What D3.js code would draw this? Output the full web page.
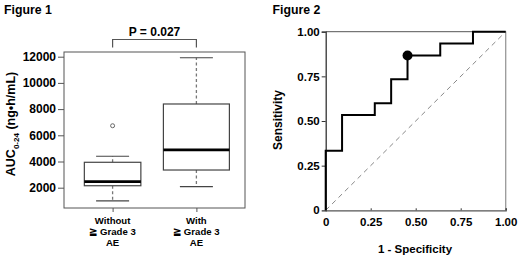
<!DOCTYPE html>
<html>
<head>
<meta charset="utf-8">
<script src="https://cdn.jsdelivr.net/npm/d3@7"></script>
<style>
  body { margin: 0; background: #fff; }
  text { font-family: "Liberation Sans", Arial, sans-serif; font-weight: bold; fill: #000; }
</style>
</head>
<body>
<svg id="chart" width="520" height="260"></svg>
<script>
// ---- Figure 1 data (box plot) ----
const groups = ["without", "with"];
const groupLabels = [["Without", "≧ Grade 3", "AE"], ["With", "≧ Grade 3", "AE"]];
const groupN = [11, 15];
const whiskerLow = [990, 2080];
const q1 = [2150, 3350];
const median = [2460, 4880];
const q3 = [3940, 8390];
const whiskerHigh = [4400, 11920];
const outliers = [[6730], []];
const aucTicks = [2000, 4000, 6000, 8000, 10000, 12000];
const pText = "P = 0.027";

// ---- Figure 2 data (ROC) ----
const nNeg = 11, nPos = 15;
const fpCounts = [0, 0, 1, 3, 4, 5, 7, 9, 11];
const tpCounts = [0, 5, 8, 9, 11, 13, 14, 15, 15];
const cutoffIndex = 5; // highlighted point
const rocTicks = [0, 0.25, 0.5, 0.75, 1];
const rocTickLabels = ["0", "0.25", "0.50", "0.75", "1.00"];

const svg = d3.select("#chart");

// ================= Figure 1 =================
const f1 = { left: 64, right: 245, top: 52, bottom: 208 };
const y1 = d3.scaleLinear().domain([2000, 12000]).range([187.7, 56.7]);
const x1 = d3.scalePoint().domain(groups).range([f1.left, f1.right]).padding(0.58);

svg.append("text").attr("x", 4).attr("y", 14).style("font-size", "12.3px").text("Figure 1");

// frame
svg.append("rect")
  .attr("x", f1.left).attr("y", f1.top)
  .attr("width", f1.right - f1.left).attr("height", f1.bottom - f1.top)
  .attr("fill", "none").attr("stroke", "#555").attr("stroke-width", 1);

// y axis
const yAx1 = svg.append("g").attr("transform", `translate(${f1.left},0)`)
  .call(d3.axisLeft(y1).tickValues(aucTicks).tickSize(6).tickPadding(2).tickFormat(d3.format("d")));
yAx1.select(".domain").remove();
yAx1.selectAll(".tick line").attr("stroke", "#555");
yAx1.selectAll(".tick text").style("font-size", "12px").attr("font-family", null).attr("fill", "#000");

// x ticks at bottom
const xAx1 = svg.append("g").attr("transform", `translate(0,${f1.bottom})`)
  .call(d3.axisBottom(x1).tickSize(4).tickFormat(""));
xAx1.select(".domain").remove();
xAx1.selectAll(".tick line").attr("stroke", "#555");

// x labels
groups.forEach((g, i) => {
  const t = svg.append("text").attr("text-anchor", "middle").style("font-size", "9.6px");
  groupLabels[i].forEach((s, j) => {
    t.append("tspan").attr("x", x1(g)).attr("y", 223.7 + j * 11.3).text(s);
  });
});

// y title
const yt = svg.append("text")
  .attr("transform", "translate(15,124) rotate(-90)")
  .attr("text-anchor", "middle").style("font-size", "12.5px");
yt.append("tspan").text("AUC");
yt.append("tspan").attr("dy", 4).style("font-size", "8px").text("0-24");
yt.append("tspan").attr("dy", -4).text(" (ng•h/mL)");

// boxes
const widthScale = d3.scaleSqrt().domain([0, d3.max(groupN)]).range([0, 66]);
const capW = 33;
groups.forEach((g, i) => {
  const cx = x1(g), w = widthScale(groupN[i]);
  const gg = svg.append("g");
  // whiskers
  gg.append("line").attr("x1", cx).attr("x2", cx).attr("y1", y1(q3[i])).attr("y2", y1(whiskerHigh[i]))
    .attr("stroke", "#777").attr("stroke-width", 1.3).attr("stroke-dasharray", "3,2.5");
  gg.append("line").attr("x1", cx).attr("x2", cx).attr("y1", y1(q1[i])).attr("y2", y1(whiskerLow[i]))
    .attr("stroke", "#777").attr("stroke-width", 1.3).attr("stroke-dasharray", "3,2.5");
  [whiskerLow[i], whiskerHigh[i]].forEach(v => {
    gg.append("line").attr("x1", cx - capW / 2).attr("x2", cx + capW / 2).attr("y1", y1(v)).attr("y2", y1(v))
      .attr("stroke", "#444").attr("stroke-width", 1.2);
  });
  gg.append("rect").attr("x", cx - w / 2).attr("width", w)
    .attr("y", y1(q3[i])).attr("height", y1(q1[i]) - y1(q3[i]))
    .attr("fill", "#fff").attr("stroke", "#444").attr("stroke-width", 1.2);
  gg.append("line").attr("x1", cx - w / 2).attr("x2", cx + w / 2).attr("y1", y1(median[i])).attr("y2", y1(median[i]))
    .attr("stroke", "#000").attr("stroke-width", 2.8);
  outliers[i].forEach(v => {
    gg.append("circle").attr("cx", cx).attr("cy", y1(v)).attr("r", 2)
      .attr("fill", "#fff").attr("stroke", "#666").attr("stroke-width", 1);
  });
});

// significance bracket
const bx0 = x1(groups[0]), bx1 = x1(groups[1]);
svg.append("path")
  .attr("d", `M${bx0},47.5V39.5H${bx1}V47.5`)
  .attr("fill", "none").attr("stroke", "#555").attr("stroke-width", 1.2);
svg.append("text").attr("x", (bx0 + bx1) / 2).attr("y", 35.5)
  .attr("text-anchor", "middle").style("font-size", "12px").text(pText);

// ================= Figure 2 =================
const x2 = d3.scaleLinear().domain([0, 1]).range([325.7, 505.7]);
const y2 = d3.scaleLinear().domain([0, 1]).range([210.3, 31.7]);

svg.append("text").attr("x", 272.5).attr("y", 14).style("font-size", "12.3px").text("Figure 2");

// top & right frame
svg.append("line").attr("x1", x2(0)).attr("x2", x2(1)).attr("y1", y2(1)).attr("y2", y2(1))
  .attr("stroke", "#555").attr("stroke-width", 1);
svg.append("line").attr("x1", x2(1)).attr("x2", x2(1)).attr("y1", y2(1)).attr("y2", y2(0))
  .attr("stroke", "#999").attr("stroke-width", 1.3);

// diagonal reference
svg.append("line").attr("x1", x2(0)).attr("y1", y2(0)).attr("x2", x2(1)).attr("y2", y2(1))
  .attr("stroke", "#888").attr("stroke-width", 1).attr("stroke-dasharray", "5,4");

// axes
const yAx2 = svg.append("g").attr("transform", `translate(${x2(0)},0)`)
  .call(d3.axisLeft(y2).tickValues(rocTicks).tickSize(4).tickPadding(2).tickFormat((d, i) => rocTickLabels[i]));
yAx2.select(".domain").attr("stroke", "#333").attr("stroke-width", 1.3);
yAx2.selectAll(".tick line").attr("stroke", "#333");
yAx2.selectAll(".tick text").style("font-size", "11.5px").attr("font-family", null).attr("fill", "#000");
yAx2.selectAll(".tick").filter(d => d === 0).select("line").remove();

const xAx2 = svg.append("g").attr("transform", `translate(0,${y2(0)})`)
  .call(d3.axisBottom(x2).tickValues(rocTicks).tickSize(-2).tickPadding(8).tickFormat((d, i) => rocTickLabels[i]));
xAx2.select(".domain").attr("stroke", "#555").attr("stroke-width", 1.2);
xAx2.selectAll(".tick line").attr("stroke", "#333");
xAx2.selectAll(".tick text").style("font-size", "11.5px").attr("font-family", null).attr("fill", "#000");

// ROC curve
const rocPts = fpCounts.map((fp, i) => [fp / nNeg, tpCounts[i] / nPos]);
svg.append("path")
  .datum(rocPts)
  .attr("d", d3.line().x(d => x2(d[0])).y(d => y2(d[1])).curve(d3.curveStepAfter))
  .attr("fill", "none").attr("stroke", "#000").attr("stroke-width", 2);
svg.append("circle")
  .attr("cx", x2(rocPts[cutoffIndex][0])).attr("cy", y2(rocPts[cutoffIndex][1])).attr("r", 5)
  .attr("fill", "#000");

// axis titles
svg.append("text").attr("x", 415).attr("y", 252.5).attr("text-anchor", "middle")
  .style("font-size", "11.5px").text("1 - Specificity");
svg.append("text").attr("transform", "translate(281.5,120) rotate(-90)").attr("text-anchor", "middle")
  .style("font-size", "12px").text("Sensitivity");
</script>
</body>
</html>
